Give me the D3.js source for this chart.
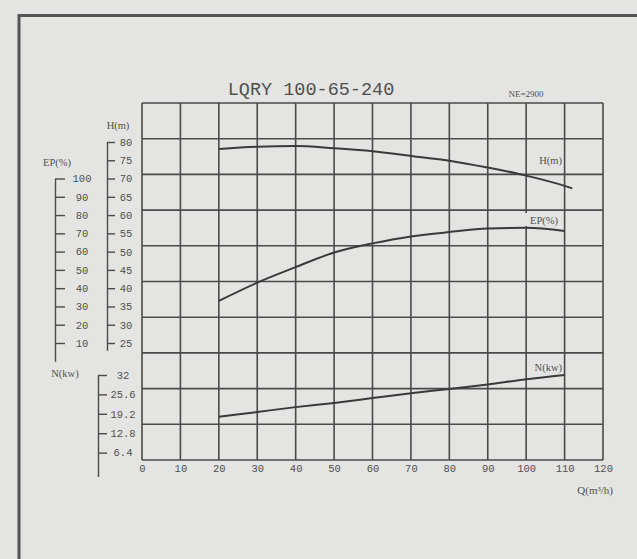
<!DOCTYPE html>
<html>
<head>
<meta charset="utf-8">
<script src="https://cdn.jsdelivr.net/npm/d3@7"></script>
<style>
body { margin: 0; background: #e4e4e2; }
svg { display: block; }
text { fill: #505050; }
</style>
</head>
<body>
<svg id="graph"></svg>
<script>
var width = 637
var height = 559

// flow Q (m3/h) and the three curves
var flow = [20, 30, 40, 50, 60, 70, 80, 90, 100, 110]
var flowH = [20, 30, 40, 50, 60, 70, 80, 90, 100, 110, 112]
var head = [78.1, 78.7, 78.9, 78.3, 77.5, 76.2, 74.9, 73.0, 70.8, 68.0, 67.3]
var eff = [33, 43, 51.5, 59.5, 64.5, 68.3, 70.7, 72.6, 73, 71.3]
var power = [18.2, 19.8, 21.4, 22.8, 24.4, 26.0, 27.4, 28.9, 30.6, 32]

var qTicks = [0, 10, 20, 30, 40, 50, 60, 70, 80, 90, 100, 110, 120]
var hTicks = [25, 30, 35, 40, 45, 50, 55, 60, 65, 70, 75, 80]
var epTicks = [10, 20, 30, 40, 50, 60, 70, 80, 90, 100]
var nTicks = [6.4, 12.8, 19.2, 25.6, 32]

var lineColor = "#4a4a4a"

var svg = d3.select("#graph")
  .attr("width", width)
  .attr("height", height)

var xScale = d3.scaleLinear().domain([0, 120]).range([142, 603])
var gridY = d3.scaleLinear().domain([0, 10]).range([460, 103])
var hScale = d3.scaleLinear().domain([25, 80]).range([343, 142])
var epScale = d3.scaleLinear().domain([10, 100]).range([343, 178.5])
var nScale = d3.scaleLinear().domain([0, 32]).range([472, 375])

// outer frame of the sheet
svg.append("path")
  .attr("d", "M19,559V15.5H637")
  .attr("fill", "none")
  .attr("stroke", "#555")
  .attr("stroke-width", 3)

// grid
svg.append("g").selectAll("line")
  .data(qTicks)
  .enter().append("line")
  .attr("x1", function(d) { return xScale(d) })
  .attr("x2", function(d) { return xScale(d) })
  .attr("y1", gridY(10))
  .attr("y2", gridY(0))
  .attr("stroke", lineColor)
  .attr("stroke-width", 1.6)

svg.append("g").selectAll("line")
  .data(d3.range(11))
  .enter().append("line")
  .attr("x1", xScale(0))
  .attr("x2", xScale(120))
  .attr("y1", function(d) { return gridY(d) })
  .attr("y2", function(d) { return gridY(d) })
  .attr("stroke", lineColor)
  .attr("stroke-width", 1.6)

// x axis labels
var xAxis = svg.append("g")
  .attr("transform", "translate(0," + gridY(0) + ")")
  .attr("color", "#555")
  .call(d3.axisBottom(xScale).tickValues(qTicks).tickSize(0).tickPadding(5))
xAxis.select(".domain").remove()
xAxis.selectAll("text")
  .attr("font-family", "Liberation Mono")
  .attr("font-size", 10.5)
  .attr("fill", "#555")

svg.append("text")
  .attr("x", 613)
  .attr("y", 494)
  .attr("text-anchor", "end")
  .attr("font-family", "Liberation Serif")
  .attr("font-size", 11)
  .text("Q(m³/h)")

// left axes
var styleAxis = function(g, labelX) {
  g.attr("color", "#555")
  g.selectAll("path, line").attr("stroke", lineColor).attr("stroke-width", 1.4)
  g.selectAll("text")
    .attr("x", labelX)
    .attr("text-anchor", "middle")
    .attr("font-family", "Liberation Mono")
    .attr("font-size", 10.5)
    .attr("fill", "#555")
}
var plain = function(d) { return String(d) }

var hAxisScale = hScale.copy().domain([23, 80]).range([hScale(23), hScale(80)])
svg.append("g")
  .attr("transform", "translate(107,0)")
  .call(d3.axisRight(hAxisScale).tickValues(hTicks).tickFormat(plain).tickSize(8).tickSizeOuter(0))
  .call(styleAxis, 19)

var epAxisScale = epScale.copy().domain([0, 100]).range([epScale(0), epScale(100)])
svg.append("g")
  .attr("transform", "translate(55,0)")
  .call(d3.axisRight(epAxisScale).tickValues(epTicks).tickFormat(plain).tickSize(10).tickSizeOuter(0))
  .call(styleAxis, 27)

var nAxisScale = nScale.copy().domain([-1.5, 32]).range([nScale(-1.5), nScale(32)])
svg.append("g")
  .attr("transform", "translate(98,0)")
  .call(d3.axisRight(nAxisScale).tickValues(nTicks).tickFormat(plain).tickSize(9).tickSizeOuter(0))
  .call(styleAxis, 25)

var leftLabels = [
  {text: "H(m)", x: 118, y: 129},
  {text: "EP(%)", x: 57, y: 166},
  {text: "N(kw)", x: 65, y: 377}
]
svg.append("g").selectAll("text")
  .data(leftLabels)
  .enter().append("text")
  .attr("x", function(d) { return d.x })
  .attr("y", function(d) { return d.y })
  .attr("text-anchor", "middle")
  .attr("font-family", "Liberation Serif")
  .attr("font-size", 10.5)
  .text(function(d) { return d.text })

// curves
var line = d3.line().curve(d3.curveMonotoneX)

svg.append("path")
  .attr("d", line(flowH.map(function(q, i) { return [xScale(q), hScale(head[i])] })))
  .attr("fill", "none").attr("stroke", "#3a3a3a").attr("stroke-width", 2)

svg.append("path")
  .attr("d", line(flow.map(function(q, i) { return [xScale(q), epScale(eff[i])] })))
  .attr("fill", "none").attr("stroke", "#3a3a3a").attr("stroke-width", 2)

svg.append("path")
  .attr("d", line(flow.map(function(q, i) { return [xScale(q), nScale(power[i])] })))
  .attr("fill", "none").attr("stroke", "#3a3a3a").attr("stroke-width", 2)

// curve names
var curveLabels = [
  {text: "H(m)", x: 562, y: 160},
  {text: "EP(%)", x: 558, y: 220},
  {text: "N(kw)", x: 562, y: 367}
]
var cl = svg.append("g").selectAll("g")
  .data(curveLabels)
  .enter().append("g")
cl.append("rect")
  .attr("x", function(d) { return d.x - 34 })
  .attr("y", function(d) { return d.y - 7 })
  .attr("width", 35)
  .attr("height", 13)
  .attr("fill", "#e4e4e2")
cl.append("text")
  .attr("x", function(d) { return d.x })
  .attr("y", function(d) { return d.y + 4 })
  .attr("text-anchor", "end")
  .attr("font-family", "Liberation Serif")
  .attr("font-size", 10.5)
  .text(function(d) { return d.text })

// title
svg.append("text")
  .attr("x", 311)
  .attr("y", 95)
  .attr("text-anchor", "middle")
  .attr("font-family", "Liberation Mono")
  .attr("font-size", 18.5)
  .attr("fill", "#4a4a4a")
  .text("LQRY 100-65-240")

svg.append("text")
  .attr("x", 526)
  .attr("y", 97)
  .attr("text-anchor", "middle")
  .attr("font-family", "Liberation Serif")
  .attr("font-size", 9)
  .text("NE=2900")
</script>
</body>
</html>
